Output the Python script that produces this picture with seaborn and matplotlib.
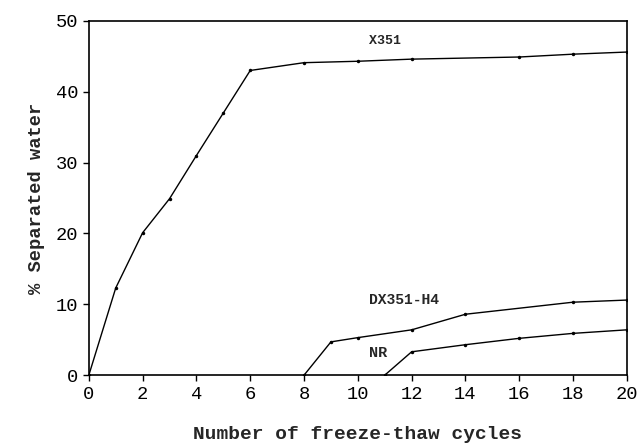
import matplotlib
matplotlib.use("Agg")
import matplotlib.pyplot as plt
import seaborn as sns
import pandas as pd

x351_x = [0, 1, 2, 3, 4, 5, 6, 8, 10, 12, 16, 18, 20]
x351_y = [0, 12.3, 20.1, 24.9, 31.0, 37.0, 43.0, 44.1, 44.3, 44.6, 44.9, 45.3, 45.6]
dx_x = [8, 9, 10, 12, 14, 18, 20]
dx_y = [0, 4.7, 5.3, 6.4, 8.6, 10.3, 10.6]
nr_x = [11, 12, 14, 16, 18, 20]
nr_y = [0, 3.3, 4.3, 5.2, 5.9, 6.4]
series_names = ["X351", "DX351-H4", "NR"]
xticks = list(range(0, 21, 2))
yticks = list(range(0, 51, 10))

df = pd.concat([
    pd.DataFrame({"cycles": x351_x, "water": x351_y, "series": series_names[0]}),
    pd.DataFrame({"cycles": dx_x, "water": dx_y, "series": series_names[1]}),
    pd.DataFrame({"cycles": nr_x, "water": nr_y, "series": series_names[2]}),
])

sns.set_style("ticks")
plt.rcParams['font.family'] = ['Liberation Mono', 'DejaVu Sans']

fig = plt.figure(figsize=(6.39, 4.44), dpi=100)
ax = fig.add_axes([0.139, 0.155, 0.842, 0.798])

sns.lineplot(data=df, x="cycles", y="water", units="series", estimator=None,
             color="black", linewidth=1.0, marker="o", markersize=2.5,
             markeredgewidth=0, ax=ax, legend=False)

ax.set_xlim(0, 20)
ax.set_ylim(0, 50)
ax.set_xticks(xticks)
ax.set_yticks(yticks)
ax.tick_params(axis="both", direction="out", length=4, width=1, labelsize=13.5, colors="black")
for s in ax.spines.values():
    s.set_visible(True)
    s.set_color("black")
    s.set_linewidth(1.2)

ax.set_xlabel("Number of freeze-thaw cycles", fontsize=14, fontweight="bold", labelpad=17)
ax.set_ylabel("% Separated water", fontsize=13.5, fontweight="bold", labelpad=8)

ax.text(10.4, 47.1, "X351", fontsize=9.5, fontweight="bold", va="center", ha="left")
ax.text(10.4, 10.6, "DX351-H4", fontsize=10.5, fontweight="bold", va="center", ha="left")
ax.text(10.4, 3.2, "NR", fontsize=11, fontweight="bold", va="center", ha="left")

fig.savefig("out.png", dpi=100, facecolor="white")
